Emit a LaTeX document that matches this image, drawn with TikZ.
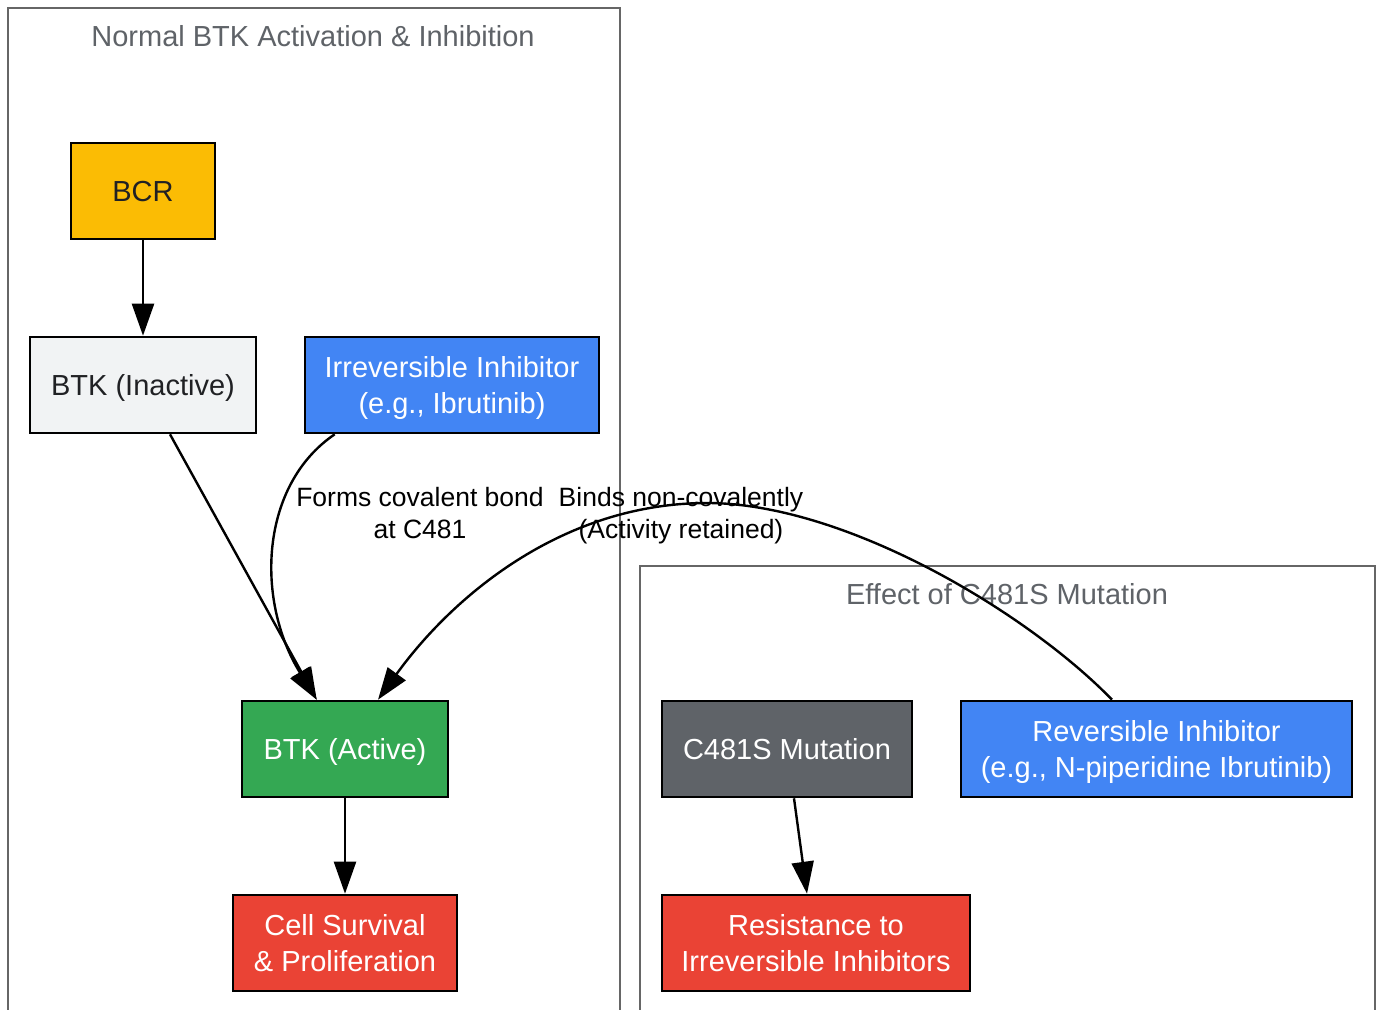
\documentclass[tikz,border=0pt]{standalone}
\usepackage{fontspec}
\setmainfont{Liberation Sans}
\usetikzlibrary{arrows.meta}
\definecolor{gyellow}{HTML}{FBBC04}
\definecolor{glight}{HTML}{F1F3F4}
\definecolor{gblue}{HTML}{4285F4}
\definecolor{ggreen}{HTML}{34A853}
\definecolor{gred}{HTML}{EA4335}
\definecolor{ggray}{HTML}{5F6368}
\definecolor{gdark}{HTML}{202124}
\definecolor{clborder}{HTML}{666666}
\newcommand{\twobox}[2]{\begin{tabular}{@{}c@{}}\rule{0pt}{31.6pt}#1\\#2\end{tabular}}
\newcommand{\twolab}[2]{\begin{tabular}{@{}c@{}}\rule{0pt}{28.6pt}#1\\#2\end{tabular}}
\begin{document}
\begin{tikzpicture}[x=1pt,y=-1pt,
  box/.style={draw=black,line width=2.6pt,inner sep=0pt,
    font=\fontsize{29}{36}\selectfont},
  onebox/.style={box,align=center,
    execute at begin node={\rule{0pt}{27.5pt}},
    execute at end node={\rule[-6.5pt]{0pt}{6.5pt}}},
  cluster/.style={draw=clborder,line width=2.4pt},
  cltitle/.style={text=ggray,font=\fontsize{29}{36}\selectfont,inner sep=0pt},
  edge/.style={line width=2.4pt,-{Triangle[length=32pt,width=22pt]}},
  elabel/.style={font=\fontsize{26.5}{32}\selectfont,inner sep=0pt,text=black}]
\useasboundingbox (0,0) rectangle (1380,1009);
\fill[white] (0,0) rectangle (1380,1009);
% clusters
\draw[cluster] (8,1030) -- (8,8) -- (620,8) -- (620,1030);
\node[cltitle] (t1) at (313,36) {Normal BTK Activation \& Inhibition};
\draw[cluster] (640,1030) -- (640,566) -- (1375,566) -- (1375,1030);
\node[cltitle] (t2) at (1007,594) {Effect of C481S Mutation};
% nodes
\node[onebox,fill=gyellow,text=gdark,minimum width=144pt,minimum height=96pt] (bcr) at (143,191) {BCR};
\node[onebox,fill=glight,text=gdark,minimum width=226pt,minimum height=96pt] (ina) at (143,385) {BTK (Inactive)};
\node[box,fill=gblue,text=white,minimum width=294pt,minimum height=96pt] (irr) at (452,385) {\twobox{Irreversible Inhibitor}{(e.g., Ibrutinib)}};
\node[onebox,fill=ggreen,text=white,minimum width=206pt,minimum height=96pt] (act) at (345,749) {BTK (Active)};
\node[box,fill=gred,text=white,minimum width=224pt,minimum height=96pt] (cell) at (345,943) {\twobox{Cell Survival}{\& Proliferation}};
\node[onebox,fill=ggray,text=white,minimum width=250pt,minimum height=96pt] (mut) at (787,749) {C481S Mutation};
\node[box,fill=gblue,text=white,minimum width=391pt,minimum height=96pt] (rev) at (1156.5,749) {\twobox{Reversible Inhibitor}{(e.g., N-piperidine Ibrutinib)}};
\node[box,fill=gred,text=white,minimum width=308pt,minimum height=96pt] (res) at (816,943) {\twobox{Resistance to}{Irreversible Inhibitors}};
% edges
\draw[edge] (bcr.south) -- (ina.north);
\draw[edge] ([xshift=27pt]ina.south) -- ([xshift=76pt]act.north west);
\draw[edge] ([xshift=31pt]irr.south west) .. controls (260,485) and (255,600) .. ([xshift=76pt]act.north west);
\draw[edge] ([xshift=-44.5pt]rev.north) .. controls (1030,615) and (850,505) .. (710,503)
  .. controls (560,502) and (450,600) .. ([xshift=33pt]act.north);
\draw[edge] (act.south) -- (cell.north);
\draw[edge] ([xshift=7pt]mut.south) -- ([xshift=-9pt]res.north);
% edge labels
\node[elabel] (l1) at (420,513) {\twolab{Forms covalent bond}{at C481}};
\node[elabel] (l2) at (681,513) {\twolab{Binds non-covalently}{(Activity retained)}};
\end{tikzpicture}
\end{document}
